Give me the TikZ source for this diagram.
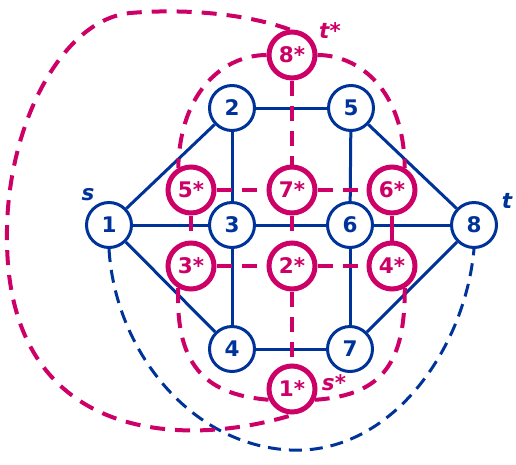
\documentclass[tikz,border=0pt]{standalone}
\usepackage{fontspec}
\setmainfont{DejaVu Sans}
\usepackage{tikz}
\usepackage{xcolor}
\usetikzlibrary{arrows.meta, calc}

\definecolor{primalblue}{RGB}{0,51,153}
\definecolor{dualred}{RGB}{204,0,102}

\begin{document}
\begin{tikzpicture}[x=1pt, y=-1pt,
    vertex/.style={circle, draw=primalblue, line width=3pt, fill=white, minimum size=45pt, inner sep=0pt, text=primalblue, font=\fontsize{21.5}{24}\selectfont\bfseries},
    dualvertex/.style={circle, draw=dualred, line width=5pt, fill=white, minimum size=46pt, inner sep=0pt, text=dualred, font=\fontsize{21.5}{24}\selectfont\bfseries},
    link/.style={primalblue, line width=3pt},
    duallink/.style={dualred, line width=4pt, dash pattern=on 15pt off 10pt},
    tag/.style={font=\fontsize{21.5}{24}\selectfont\bfseries\itshape}]
    \useasboundingbox (0,0) rectangle (516,464);
    % primal graph
    \node[vertex] (n1) at (109,225) {1};
    \node[vertex] (n2) at (232,108) {2};
    \node[vertex] (n3) at (232,225) {3};
    \node[vertex] (n4) at (232,349) {4};
    \node[vertex] (n5) at (351,108) {5};
    \node[vertex] (n6) at (350,225) {6};
    \node[vertex] (n7) at (350,349) {7};
    \node[vertex] (n8) at (474,225) {8};
    % dual graph
    \node[dualvertex] (d8) at (292,55) {8*};
    \node[dualvertex] (d5) at (191,190) {5*};
    \node[dualvertex] (d7) at (292,190) {7*};
    \node[dualvertex] (d6) at (392,190) {6*};
    \node[dualvertex] (d3) at (191,266) {3*};
    \node[dualvertex] (d2) at (292,266) {2*};
    \node[dualvertex] (d4) at (392,266) {4*};
    \node[dualvertex] (d1) at (292,389) {1*};
    \foreach \a/\b in {1/2, 1/3, 1/4, 2/3, 2/5, 3/6, 3/4, 5/6, 5/8, 6/8, 6/7, 4/7, 7/8}
        \draw[link] (n\a) -- (n\b);
    \draw[link, dash pattern=on 13pt off 8pt] (n1.south) .. controls (115,350) and (190,445) .. (290,450)
        .. controls (390,455) and (465,350) .. (n8.south);
    \foreach \a/\b in {5/7, 7/6, 3/2, 2/4, 8/7, 7/2, 2/1, 5/3}
        \draw[duallink] (d\a) -- (d\b);
    \draw[duallink, solid] (d6) -- (d4);
    \draw[duallink] (d8.180) .. controls (225,55) and (180,90) .. (d5.120);
    \draw[duallink] (d8.0) .. controls (359,55) and (404,90) .. (d6.60);
    \draw[duallink] (d3.240) .. controls (175,370) and (210,395) .. (d1.205);
    \draw[duallink] (d4.300) .. controls (405,360) and (385,395) .. (d1.335);
    \draw[duallink] (d8.95) .. controls (250,15) and (190,8) .. (130,13)
        .. controls (60,20) and (5,130) .. (7,240)
        .. controls (8,440) and (180,450) .. (d1.275);
    % labels
    \node[tag, text=primalblue] (ls) at (88,195) {s};
    \node[tag, text=primalblue] (lt) at (507,201) {t};
    \node[tag, text=dualred] (ldt) at (330,31) {t*};
    \node[tag, text=dualred] (lds) at (334,383) {s*};
\end{tikzpicture}
\end{document}
